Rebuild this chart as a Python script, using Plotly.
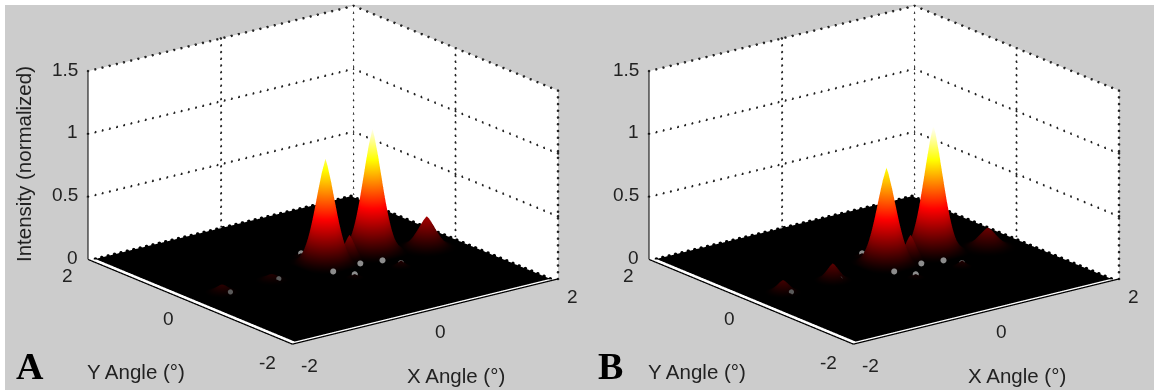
import numpy as np
import plotly.graph_objects as go

# Tick labels
X_TICKS = [-2, 0, 2]
Y_TICKS = [-2, 0, 2]
Z_TICKS = [0, 0.5, 1, 1.5]
Z_LABELS = ["0", "0.5", "1", "1.5"]

# Normalised cross-section of one peak
PROFILE_OFFSET = [-3, -2.4, -2, -1.75, -1.5, -1.25, -1, -.75, -.5, -.25, 0,
                  .25, .5, .75, 1, 1.25, 1.5, 1.75, 2, 2.4, 3]
PROFILE_VALUE = [0, .06, .14, .22, .33, .45, .58, .71, .83, .93, 1,
                 .93, .83, .71, .58, .45, .33, .22, .14, .06, 0]

# Peak positions are shared by the two panels; the heights differ
PEAK_X = [0.86, 0.16, 0.46, 1.47, -1.49, -0.74, 0.07, 0.10, 0.79]
PEAK_Y = [0.15, 0.16, 0.08, -0.12, 0.04, 0.04, 0.52, -0.49, -0.50]
PEAK_W = [0.125, 0.125, 0.07, 0.115, 0.08, 0.08, 0.05, 0.05, 0.05]
A_H = [0.98, 0.83, 0.20, 0.25, 0.065, 0.05, 0.03, 0.03, 0.05]
B_H = [1.01, 0.76, 0.20, 0.16, 0.10, 0.135, 0.03, 0.03, 0.05]

# Glints at the foot of the peaks
GLINT_X = [0.07, -0.04, 0.10, 0.40, 0.68, 0.79, 1.59]
GLINT_Y = [0.52, -0.25, -0.49, -0.21, -0.28, -0.50, -0.16]
FAINT_X = [-0.72, -1.48]
FAINT_Y = [-0.07, -0.11]

FLOOR_X = [-1.92, 1.93]
FLOOR_Y = [-1.94, 1.96]
FLOOR_Z = [[0, 0], [0, 0]]

HOT = [[0, "#000000"], [0.375, "#ff0000"], [0.75, "#ffff00"], [1, "#ffffff"]]
LIGHT = dict(ambient=1.0, diffuse=0.0, specular=0.0, roughness=0.5, fresnel=0.0)
TEXT = "#222222"
FONT = "Liberation Sans"
ZOOM = 1.915


def panel(fig, sid, hs):
    off = np.array(PROFILE_OFFSET)
    pro = np.array(PROFILE_VALUE)
    fig.add_trace(go.Surface(x=FLOOR_X, y=FLOOR_Y, z=FLOOR_Z, scene=sid,
                             surfacecolor=FLOOR_Z, cmin=0, cmax=1, colorscale=HOT,
                             showscale=False, hoverinfo="skip", lighting=LIGHT))
    for x, y, h, w in zip(PEAK_X, PEAK_Y, hs, PEAK_W):
        fig.add_trace(go.Surface(x=x + w * off, y=y + w * off, z=h * np.outer(pro, pro),
                                 scene=sid, cmin=0, cmax=1, colorscale=HOT,
                                 showscale=False, hoverinfo="skip", lighting=LIGHT))
    zt = max(Z_TICKS)
    x0, x1 = X_TICKS[0], X_TICKS[-1]
    y0, y1 = Y_TICKS[0], Y_TICKS[-1]

    def seg(xx, yy, zz, width=1.5):
        fig.add_trace(go.Scatter3d(x=xx, y=yy, z=zz, mode="lines", scene=sid,
                                   line=dict(color="#000000", width=width),
                                   hoverinfo="skip", showlegend=False))

    def dots(xx, yy, zz, n, color="#222222", size=1.5):
        fig.add_trace(go.Scatter3d(x=np.linspace(xx[0], xx[1], n),
                                   y=np.linspace(yy[0], yy[1], n),
                                   z=np.linspace(zz[0], zz[1], n),
                                   mode="markers", scene=sid,
                                   marker=dict(color=color, size=size, line_width=0),
                                   hoverinfo="skip", showlegend=False))

    def glints(xs, ys, color, size):
        fig.add_trace(go.Scatter3d(x=xs, y=ys, z=[0.03] * len(xs), mode="markers", scene=sid,
                                   marker=dict(color=color, size=size, line_width=0),
                                   hoverinfo="skip", showlegend=False))

    # dotted grid on the two back walls
    for zv in Z_TICKS[1:]:
        dots([x0, x1], [y1, y1], [zv, zv], 38)
        dots([x1, x1], [y1, y0], [zv, zv], 31)
    for xv in X_TICKS[1:]:
        dots([xv, xv], [y1, y1], [0, zt], 29)
    for yv in Y_TICKS[:-1]:
        dots([x1, x1], [yv, yv], [0, zt], 29)
    # toothed back edges of the sampled floor
    dots([FLOOR_X[0], FLOOR_X[1]], [FLOOR_Y[1], FLOOR_Y[1]], [0, 0], 41, "#000000", 2)
    dots([FLOOR_X[1], FLOOR_X[1]], [FLOOR_Y[1], FLOOR_Y[0]], [0, 0], 33, "#000000", 2)
    # solid axes
    seg([x0, x0], [y1, y1], [0, zt], 2)
    seg([x0, x0], [y1, y0], [0, 0], 2.5)
    seg([x0, x1], [y0, y0], [0, 0], 2.5)
    for zv in Z_TICKS:
        seg([x0, x0 - 0.04], [y1, y1 + 0.04], [zv, zv])
    for xv in X_TICKS:
        seg([xv, xv], [y0, y0 - 0.06], [0, 0])
    for yv in Y_TICKS:
        seg([x0, x0 - 0.06], [yv, yv], [0, 0])
    # glints at the peak feet
    glints(GLINT_X, GLINT_Y, "#8c8c8c", 3.5)
    glints(FAINT_X, FAINT_Y, "#5a5a5a", 3)


def annos():
    font = dict(family=FONT, size=19, color=TEXT)
    out = []
    for zv, lab in zip(Z_TICKS, Z_LABELS):
        out.append(dict(x=X_TICKS[0], y=Y_TICKS[-1], z=zv, text=lab, showarrow=False,
                        xanchor="right", xshift=-8, yshift=2, font=font))
    for v, xs, ys in zip(X_TICKS, [18, 16, 15], [-21, -20, -18]):
        out.append(dict(x=v, y=Y_TICKS[0], z=0, text=str(v), showarrow=False,
                        xshift=xs, yshift=ys, font=font))
    for v, xs, ys in zip(Y_TICKS, [-24, -21, -20], [-18, -17, -16]):
        out.append(dict(x=X_TICKS[0], y=v, z=0, text=str(v), showarrow=False,
                        xshift=xs, yshift=ys, font=font))
    return out


def scene(dom):
    ax = dict(showgrid=False, zeroline=False, showline=False, showticklabels=False,
              ticks="", title="", showspikes=False, showbackground=True,
              backgroundcolor="#ffffff")
    return dict(domain=dom,
                xaxis=dict(ax, range=[X_TICKS[0], X_TICKS[-1]]),
                yaxis=dict(ax, range=[Y_TICKS[0], Y_TICKS[-1]]),
                zaxis=dict(ax, range=[Z_TICKS[0], Z_TICKS[-1]]),
                aspectmode="manual",
                aspectratio=dict(x=ZOOM, y=ZOOM, z=0.593 * ZOOM),
                camera=dict(eye=dict(x=-0.578 * 2, y=-0.751 * 2, z=0.319 * 2),
                            up=dict(x=0, y=0, z=1), center=dict(x=0, y=0, z=0),
                            projection=dict(type="orthographic")),
                bgcolor="rgba(0,0,0,0)", annotations=annos(), dragmode=False)


W, H = 1154, 390
fig = go.Figure()
panel(fig, "scene", A_H)
panel(fig, "scene2", B_H)


def label(px, py, text, size=20.5, family=FONT, angle=0, color=TEXT):
    return dict(x=px / W, y=1 - py / H, xref="paper", yref="paper", text=text,
                showarrow=False, textangle=angle, xanchor="center", yanchor="middle",
                font=dict(family=family, size=size, color=color))


anns = [
    label(30, 366, "<b>A</b>", 38, "Liberation Serif", color="#000000"),
    label(610, 366, "<b>B</b>", 38, "Liberation Serif", color="#000000"),
    label(136, 371, "Y Angle (°)"),
    label(456, 375, "X Angle (°)"),
    label(136 + 561, 371, "Y Angle (°)"),
    label(456 + 561, 375, "X Angle (°)"),
    label(23, 164, "Intensity (normalized)", angle=-90),
]

fig.update_layout(
    width=W, height=H, autosize=False, margin=dict(l=0, r=0, t=0, b=0),
    paper_bgcolor="#ffffff", showlegend=False,
    scene=scene(dict(x=[62.5 / W, 582.5 / W], y=[1 - 350 / H, 1])),
    scene2=scene(dict(x=[623.5 / W, 1143.5 / W], y=[1 - 350 / H, 1])),
    annotations=anns,
    shapes=[dict(type="rect", xref="paper", yref="paper", x0=5 / W, x1=1,
                 y0=0, y1=1 - 5 / H, fillcolor="#cccccc", line_width=0, layer="below")],
)
fig.write_html("out.html", config={"displayModeBar": False},
               post_script="document.body.style.margin='0';")
